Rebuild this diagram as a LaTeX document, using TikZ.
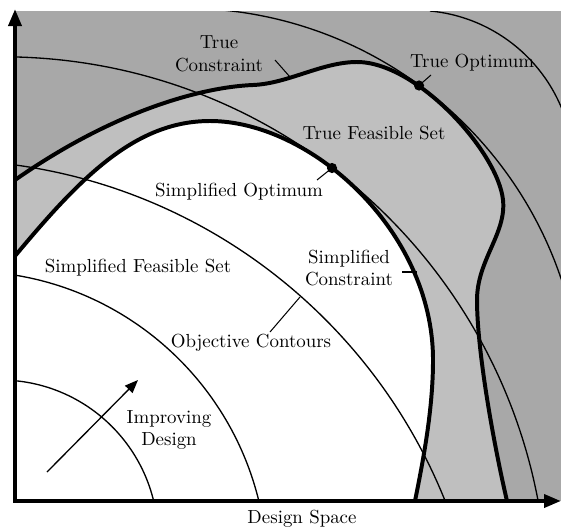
\documentclass[tikz,border=0pt]{standalone}
\usetikzlibrary{arrows.meta}
\definecolor{darkg}{gray}{0.66}
\definecolor{lightg}{gray}{0.75}
\begin{document}
\begin{tikzpicture}[x=0.529pt,y=-0.529pt,
  thickc/.style={line width=2.1pt},
  contour/.style={line width=0.7pt},
  leader/.style={line width=0.55pt},
  axis/.style={line width=2.1pt,{Triangle[length=9pt,width=6.8pt]}-{Triangle[length=9pt,width=6.8pt]}},
  dotn/.style={circle,fill=black,inner sep=0pt,minimum size=5.4pt},
  lbl/.style={align=center,inner sep=0pt}]
\useasboundingbox (0,0) rectangle (561,529);
% paths of the two constraints
\def\truec{(15,180) .. controls (115,110) and (203,87) .. (253,85)
  .. controls (288,83.6) and (322,62) .. (357,62)
  .. controls (417,62) and (498,152) .. (503,200)
  .. controls (506.5,233.6) and (477,260) .. (477,300)
  .. controls (477,350) and (493,441) .. (507,501)}
\def\simpc{(15,256) .. controls (80,178) and (135,121) .. (210,121)
  .. controls (310,121) and (433,230) .. (433,360)
  .. controls (433,410) and (423,461) .. (415,501)}
% regions
\fill[darkg] (15,11) rectangle (561,501);
\fill[lightg] (15,501) -- \truec -- cycle;
\fill[white] (15,501) -- \simpc -- cycle;
% objective contours (circular arcs)
\coordinate (ca) at (0,538);
\coordinate (cb) at (-33.7,572.2);
\coordinate (cc) at (-59.2,703.1);
\coordinate (cd) at (1.9,602.4);
\coordinate (ce) at (184.1,406);
\begin{scope}
\clip (15,11) rectangle (561,501);
\draw[contour] (ca) circle[radius=158];
\draw[contour] (cb) circle[radius=301];
\draw[contour] (cc) circle[radius=543.2];
\draw[contour] (cd) circle[radius=545.6];
\begin{scope}
\clip (200,11) rectangle (561,501);
\draw[contour] (ce) circle[radius=397.8];
\end{scope}
\draw[contour] ([shift={(-84.7:158.3)}]415.3,168.6) arc[start angle=-84.7, end angle=-15, radius=158.3];
\end{scope}
% constraints
\draw[thickc] \truec;
\draw[thickc] \simpc;
% axes
\coordinate (ytop) at (15,9);
\coordinate (orig) at (15,501);
\coordinate (xend) at (561,501);
\draw[axis] (ytop) -- (orig) -- (xend);
% optima
\node[dotn] (topt) at (419,85.5) {};
\node[dotn] (sopt) at (332,168) {};
% labels
\node[lbl] (ltc) at (219,54) {True\\Constraint};
\node[lbl] (lto) at (472,63) {True Optimum};
\node[lbl] (ltf) at (374,133) {True Feasible Set};
\node[lbl] (lso) at (239,192) {Simplified Optimum};
\node[lbl] (lsc) at (349,268) {Simplified\\Constraint};
\node[lbl] (lsf) at (138,268) {Simplified Feasible Set};
\node[lbl] (loc) at (251,343) {Objective Contours};
\node[lbl] (lid) at (169,430) {Improving\\Design};
\node[lbl] (lds) at (302,519) {Design Space};
% leaders
\coordinate (tcA) at (275,60); \coordinate (tcB) at (290,77);
\draw[leader] (tcA) -- (tcB);
\coordinate (toA) at (431,75);
\draw[leader] (toA) -- (topt.center);
\coordinate (soA) at (317,180);
\draw[leader] (soA) -- (sopt.center);
\coordinate (scA) at (402,272); \coordinate (scB) at (417,272);
\draw[leader] (scA) -- (scB);
\coordinate (ocA) at (270,332); \coordinate (ocB) at (300,297);
\draw[leader] (ocA) -- (ocB);
% improving arrow
\coordinate (imA) at (47,472); \coordinate (imB) at (138,380);
\draw[line width=0.7pt,-{Triangle[length=7pt,width=5.5pt]}] (imA) -- (imB);
\end{tikzpicture}
\end{document}
